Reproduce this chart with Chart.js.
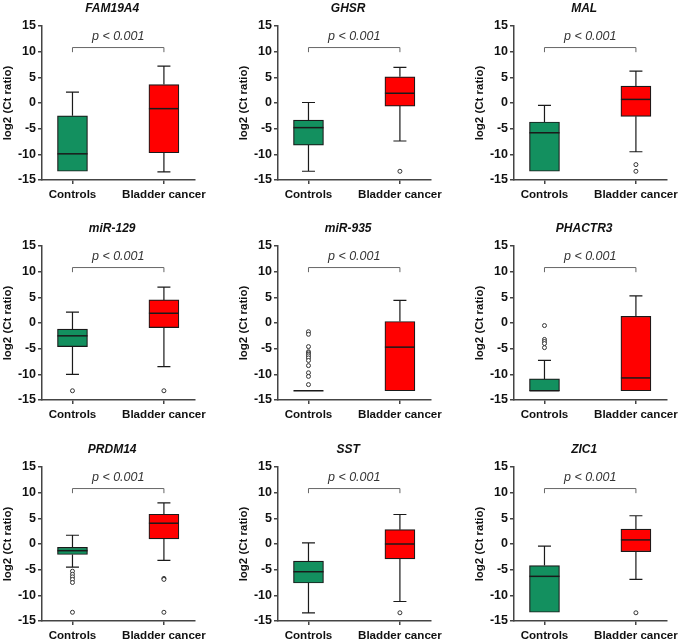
<!DOCTYPE html>
<html>
<head>
<meta charset="utf-8">
<script src="https://cdn.jsdelivr.net/npm/chart.js@4.4.1/dist/chart.umd.min.js"></script>
<style>
  body { margin: 0; background: #fff; }
  #wrap { position: relative; width: 685px; height: 644px; }
  #wrap canvas { position: absolute; }
</style>
</head>
<body>
<div id="wrap"></div>
<script>
// panel names and groups
const genes = ['FAM19A4', 'GHSR', 'MAL', 'miR-129', 'miR-935', 'PHACTR3', 'PRDM14', 'SST', 'ZIC1'];
const groups = ['Controls', 'Bladder cancer'];
const yTicks = [-15, -10, -5, 0, 5, 10, 15];
const pLabels = ['p < 0.001', 'p < 0.001', 'p < 0.001', 'p < 0.001', 'p < 0.001', 'p < 0.001', 'p < 0.001', 'p < 0.001', 'p < 0.001'];

// box stats, one entry per panel
const controlsMin    = [-13.3, -13.3, -13.3, -10.0, -13.2, -13.2, -4.5, -13.4, -13.3];
const controlsQ1     = [-13.3, -8.2, -13.3, -4.6, -13.2, -13.2, -2.05, -7.6, -13.3];
const controlsMedian = [-9.9, -4.8, -5.8, -2.5, -13.2, -13.2, -1.3, -5.4, -6.3];
const controlsQ3     = [-2.5, -3.35, -3.7, -1.2, -13.2, -10.9, -0.65, -3.35, -4.2];
const controlsMax    = [2.1, 0.1, -0.45, 2.1, -13.2, -7.3, 1.7, 0.2, -0.4];

const cancerMin    = [-13.4, -7.4, -9.5, -8.5, -13.2, -13.2, -3.2, -11.2, -6.9];
const cancerQ1     = [-9.7, -0.6, -2.6, -0.9, -13.2, -13.2, 1.0, -2.9, -1.5];
const cancerMedian = [-1.1, 1.9, 0.7, 1.9, -4.7, -10.7, 4.05, 0.0, 0.8];
const cancerQ3     = [3.6, 5.1, 3.3, 4.5, 0.3, 1.3, 5.8, 2.8, 2.9];
const cancerMax    = [7.2, 6.95, 6.2, 7.0, 4.4, 5.3, 8.0, 5.75, 5.5];

const controlsOutliers = [
  [], [], [], [-13.2],
  [-1.7, -2.2, -4.6, -5.6, -5.8, -6.1, -6.4, -6.8, -7.3, -8.3, -9.7, -10.4, -12.0],
  [-0.5, -3.2, -3.6, -4.0, -4.8],
  [-5.3, -5.9, -6.4, -6.9, -7.5, -13.3],
  [], []
];
const cancerOutliers = [
  [], [-13.3], [-12.0, -13.3], [-13.2], [], [], [-6.7, -6.9, -13.3], [-13.4], [-13.4]
];

const boxColors = ['#13905f', '#ff0000'];
const colLeft = [0, 236, 472];
const rowTop = [0, 220, 441];

const boxPlugin = {
  id: 'boxes',
  afterDatasetsDraw(chart, args, opts) {
    const i = opts.index;
    const ctx = chart.ctx;
    const x = chart.scales.x, y = chart.scales.y;
    const stats = [
      [controlsMin[i], controlsQ1[i], controlsMedian[i], controlsQ3[i], controlsMax[i]],
      [cancerMin[i], cancerQ1[i], cancerMedian[i], cancerQ3[i], cancerMax[i]]
    ];
    ctx.save();
    ctx.strokeStyle = '#1a1a1a';
    ctx.lineWidth = 1.2;
    stats.forEach((s, k) => {
      const px = x.getPixelForValue(k);
      const half = 15, cap = 6.5;
      ctx.beginPath();
      if (s[4] > s[3]) {
        ctx.moveTo(px, y.getPixelForValue(s[3]));
        ctx.lineTo(px, y.getPixelForValue(s[4]));
        ctx.moveTo(px - cap, y.getPixelForValue(s[4]));
        ctx.lineTo(px + cap, y.getPixelForValue(s[4]));
      }
      if (s[0] < s[1]) {
        ctx.moveTo(px, y.getPixelForValue(s[1]));
        ctx.lineTo(px, y.getPixelForValue(s[0]));
        ctx.moveTo(px - cap, y.getPixelForValue(s[0]));
        ctx.lineTo(px + cap, y.getPixelForValue(s[0]));
      }
      ctx.stroke();
      ctx.beginPath();
      ctx.lineWidth = 1.5;
      ctx.moveTo(px - half, y.getPixelForValue(s[2]));
      ctx.lineTo(px + half, y.getPixelForValue(s[2]));
      ctx.stroke();
      ctx.lineWidth = 1.2;
    });

    // significance bracket
    const x0 = x.getPixelForValue(0), x1 = x.getPixelForValue(1);
    const yTop = y.getPixelForValue(10.8), yEnd = y.getPixelForValue(9.9);
    ctx.strokeStyle = '#666';
    ctx.lineWidth = 1;
    ctx.beginPath();
    ctx.moveTo(x0, yEnd); ctx.lineTo(x0, yTop); ctx.lineTo(x1, yTop); ctx.lineTo(x1, yEnd);
    ctx.stroke();

    ctx.fillStyle = '#333';
    ctx.textAlign = 'center';
    ctx.textBaseline = 'middle';
    ctx.font = 'italic 12.5px "Liberation Sans", Arial, sans-serif';
    ctx.fillText(pLabels[i], (x0 + x1) / 2, y.getPixelForValue(13.0));

    // panel title
    ctx.fillStyle = '#111';
    ctx.font = 'italic bold 12px "Liberation Sans", Arial, sans-serif';
    const area = chart.chartArea;
    ctx.fillText(genes[i], (area.left + area.right) / 2 - 6, area.top - 17);
    ctx.restore();
  }
};

const wrap = document.getElementById('wrap');

genes.forEach((gene, i) => {
  const c = document.createElement('canvas');
  c.width = 213;
  c.height = 210;
  c.style.left = colLeft[i % 3] + 'px';
  c.style.top = rowTop[Math.floor(i / 3)] + 'px';
  wrap.appendChild(c);

  const outliers = controlsOutliers[i].map(v => ({x: 0, y: v}))
    .concat(cancerOutliers[i].map(v => ({x: 1, y: v})));

  new Chart(c, {
    type: 'bar',
    data: {
      datasets: [{
        data: [
          {x: 0, y: [controlsQ1[i], controlsQ3[i]]},
          {x: 1, y: [cancerQ1[i], cancerQ3[i]]}
        ],
        backgroundColor: boxColors,
        borderColor: '#1a1a1a',
        borderWidth: 1.2,
        borderSkipped: false,
        barThickness: 30
      }, {
        type: 'scatter',
        data: outliers,
        pointRadius: 2,
        pointBorderWidth: 1,
        borderColor: '#333',
        backgroundColor: '#fff'
      }]
    },
    options: {
      responsive: false,
      animation: false,
      devicePixelRatio: 1,
      layout: { padding: { top: 26, right: 16, left: 0, bottom: 0 } },
      plugins: {
        legend: { display: false },
        tooltip: { enabled: false },
        boxes: { index: i }
      },
      scales: {
        x: {
          type: 'linear',
          offset: false,
          min: -1 / 3,
          max: 4 / 3,
          afterBuildTicks: s => { s.ticks = [{value: 0}, {value: 1}]; },
          afterFit: s => { s.height = 30; },
          ticks: {
            autoSkip: false,
            maxRotation: 0,
            padding: 4,
            color: '#111',
            font: { family: '"Liberation Sans", Arial, sans-serif', size: 11.6, weight: 'bold' },
            callback: v => groups[v]
          },
          grid: { offset: false, drawOnChartArea: false, drawTicks: true, tickLength: 4, color: '#444', lineWidth: 1.5 },
          border: { color: '#444', width: 1.5 }
        },
        y: {
          min: -15,
          max: 15,
          afterBuildTicks: s => { s.ticks = yTicks.map(v => ({value: v})); },
          afterFit: s => { s.width = 42; },
          ticks: {
            padding: 2,
            color: '#111',
            font: { family: '"Liberation Sans", Arial, sans-serif', size: 12.5, weight: 'bold' }
          },
          title: {
            display: true,
            text: 'log2 (Ct ratio)',
            color: '#111',
            padding: { top: 1, bottom: 0 },
            font: { family: '"Liberation Sans", Arial, sans-serif', size: 11.5, weight: 'bold' }
          },
          grid: { drawOnChartArea: false, drawTicks: true, tickLength: 4, color: '#444', lineWidth: 1.5 },
          border: { color: '#444', width: 1.5 }
        }
      }
    },
    plugins: [boxPlugin]
  });
});
</script>
</body>
</html>
